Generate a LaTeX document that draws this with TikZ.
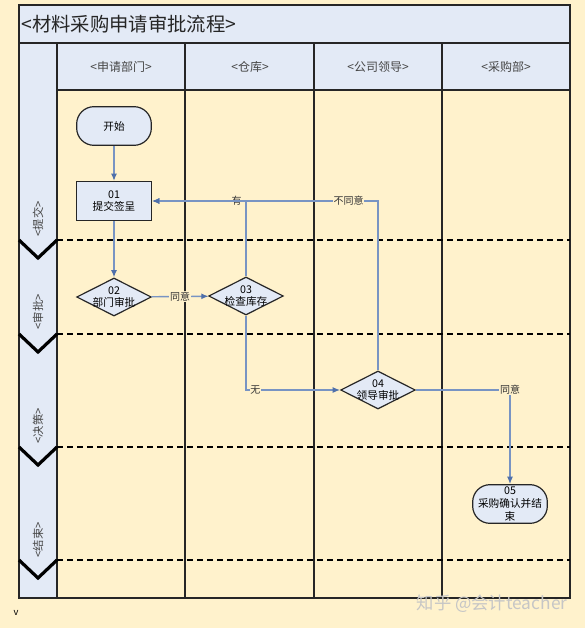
\documentclass[tikz,border=0pt]{standalone}
\usepackage{fontspec}
\setmainfont{Noto Sans CJK SC}
\usetikzlibrary{positioning, shapes.geometric, arrows.meta}

\definecolor{paper}{RGB}{255,242,204}
\definecolor{laneblue}{RGB}{227,234,246}
\definecolor{flowline}{RGB}{120,148,195}
\definecolor{flowhead}{RGB}{79,112,170}
\definecolor{inkgray}{RGB}{70,70,70}

\begin{document}
\begin{tikzpicture}[
    x=0.75pt, y=-0.75pt,
    every node/.style={font=\fontsize{8}{9.5}\selectfont, inner sep=1pt},
    stepbox/.style={
        rectangle, fill=laneblue, draw=black!85, line width=1.1pt,
        minimum width=56pt, minimum height=29pt, align=center
    },
    termbox/.style={stepbox, line width=0.9pt, rounded corners=13pt},
    decision/.style={
        diamond, fill=laneblue, draw=black!85, line width=0.9pt,
        minimum width=56pt, minimum height=28.5pt, inner sep=0pt
    },
    steptext/.style={align=center},
    flow/.style={draw=flowline, line width=1pt,
        -{Latex[length=5.5pt, width=4.5pt, color=flowhead]}},
    flowlabel/.style={fill=paper, inner sep=0.6pt,
        font=\fontsize{7.5}{9}\selectfont, text=black!80},
    colhead/.style={font=\fontsize{9}{11}\selectfont, text=inkgray},
    phase/.style={rotate=90, anchor=west,
        font=\fontsize{8.5}{10}\selectfont, text=inkgray},
    phaseline/.style={line width=2.2pt, dash pattern=on 4.5pt off 3pt},
    chevron/.style={line width=2.4pt, line join=miter}
]

%% ── Page and frame ─────────────────────────────────────────────────
\fill[paper] (0,0) rectangle (585,628);
\useasboundingbox (0,0) rectangle (585,628);

%% Title row
\fill[laneblue] (19,5) rectangle (570,43);
\node[anchor=west, font=\fontsize{14.5}{17}\selectfont, text=black!85]
    (title) at (20,24) {<材料采购申请审批流程>};

%% Header row and phase column
\fill[laneblue] (57,43) rectangle (570,90);
\fill[laneblue] (19,43) rectangle (57,598);

\node[colhead] (hdA) at (121,67) {<申请部门>};
\node[colhead] (hdB) at (250,67) {<仓库>};
\node[colhead] (hdC) at (378,67) {<公司领导>};
\node[colhead] (hdD) at (506,67) {<采购部>};

%% Grid lines
\draw[black!85, line width=1.1pt] (19,5) rectangle (570,598);
\draw[black!85, line width=1.1pt] (19,43) -- (570,43);
\draw[black!85, line width=1.1pt] (57,90) -- (570,90);
\draw[black!85, line width=1.1pt] (57,43) -- (57,598);
\draw[black!85, line width=1.1pt] (185,43) -- (185,598);
\draw[black!85, line width=1.1pt] (314,43) -- (314,598);
\draw[black!85, line width=1.1pt] (442,43) -- (442,598);

%% ── Phases ─────────────────────────────────────────────────────────
\def\bndA{240}
\def\bndB{334}
\def\bndC{447}
\def\bndD{560}

\draw[phaseline] (57,\bndA) -- (570,\bndA);
\draw[phaseline] (57,\bndB) -- (570,\bndB);
\draw[phaseline] (57,\bndC) -- (570,\bndC);
\draw[phaseline] (57,\bndD) -- (570,\bndD);

\draw[chevron] (19,\bndA) -- (38,\bndA+18) -- (57,\bndA);
\draw[chevron] (19,\bndB) -- (38,\bndB+18) -- (57,\bndB);
\draw[chevron] (19,\bndC) -- (38,\bndC+18) -- (57,\bndC);
\draw[chevron] (19,\bndD) -- (38,\bndD+18) -- (57,\bndD);

\node[phase] (phA) at (38,\bndA-2) {<提交>};
\node[phase] (phB) at (38,\bndB-3) {<审批>};
\node[phase] (phC) at (38,\bndC-2) {<决策>};
\node[phase] (phD) at (38,\bndD-1) {<结束>};

%% ── Steps ──────────────────────────────────────────────────────────
\node[termbox] (start) at (114,126) {开始};
\node[stepbox] (s01) at (114,201) {01\\提交签呈};

\node[decision] (s02) at (114,297) {};
\node[steptext] (t02) at (s02) {02\\部门审批};

\node[decision] (s03) at (246,296) {};
\node[steptext] (t03) at (s03) {03\\检查库存};

\node[decision] (s04) at (378,390) {};
\node[steptext] (t04) at (s04) {04\\领导审批};

\node[termbox] (s05) at (510,504) {};
\node[steptext] (t05) at (s05) {05\\采购确认并结\\束};

%% ── Connectors ─────────────────────────────────────────────────────
\draw[flow] (start) -- (s01);
\draw[flow] (s01) -- (s02);
\draw[flow] (s02) -- node[flowlabel] {同意} (s03);
\draw[flow] (s03.north) |- node[flowlabel, pos=0.55] {有} (s01.east);
\draw[flow] (s04.north) |- node[flowlabel, pos=0.565] {不同意} (s01.east);
\draw[flow] (s03.south) |- node[flowlabel, pos=0.55] {无} (s04.west);
\draw[flow] (s04.east) -| node[flowlabel] {同意} (s05.north);

%% Page marks
\node[font=\fontsize{7}{8}\selectfont] (mark) at (16,613) {v};
\node[font=\fontsize{13}{15}\selectfont, text=gray!45] (wmark)
    at (492,604) {知乎 @会计teacher};

\end{tikzpicture}
\end{document}
